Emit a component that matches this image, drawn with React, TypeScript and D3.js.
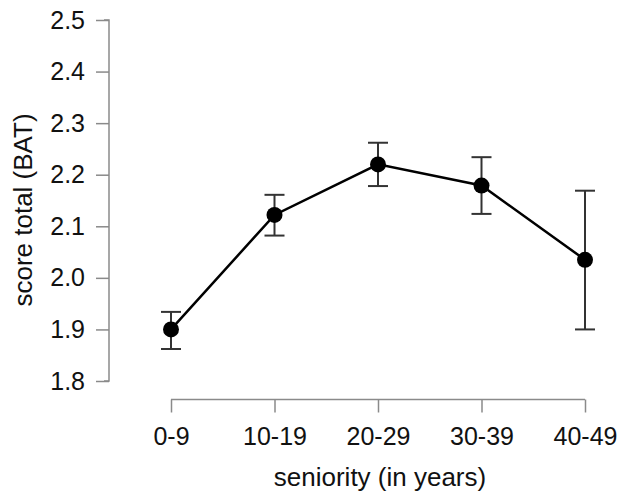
import React, { useRef, useEffect } from 'react';
import * as d3 from 'd3';

// seniority groups and BAT score means with error bar bounds
const groups = ['0-9', '10-19', '20-29', '30-39', '40-49'];
const means = [1.9, 2.122, 2.22, 2.179, 2.035];
const lower = [1.862, 2.082, 2.178, 2.124, 1.9];
const upper = [1.934, 2.161, 2.262, 2.234, 2.169];
const yTicks = [1.8, 1.9, 2.0, 2.1, 2.2, 2.3, 2.4, 2.5];

const W = 620;
const H = 494;
const FONT = '"Liberation Sans", Arial, sans-serif';

export default function App() {
  const ref = useRef<SVGSVGElement>(null);

  useEffect(() => {
    const svg = d3.select(ref.current);
    svg.selectAll('*').remove();

    const x = d3.scalePoint<string>().domain(groups).range([171, 585]);
    const y = d3.scaleLinear().domain([1.8, 2.5]).range([381, 20]);

    const axisColor = '#8a8a8a';

    // y axis
    const ya = svg.append('g').attr('transform', 'translate(109,0)')
      .call(d3.axisLeft(y).tickValues(yTicks).tickFormat(d3.format('.1f')).tickSize(13).tickPadding(11));
    ya.select('.domain').attr('stroke', axisColor).attr('stroke-width', 1.5)
      .attr('d', `M-5,${y(2.5)}H0V${y(1.8)}H-5`);
    ya.selectAll('.tick line').attr('stroke', axisColor).attr('stroke-width', 1.5);
    ya.selectAll('.tick text').attr('fill', '#111').style('font-size', '25px').style('font-family', FONT);

    // x axis
    const xa = svg.append('g').attr('transform', 'translate(0,399.5)')
      .call(d3.axisBottom(x).tickSize(13).tickPadding(15));
    xa.select('.domain').attr('stroke', axisColor).attr('stroke-width', 1.5)
      .attr('d', `M${x('0-9')},0H${x('40-49')}`);
    xa.selectAll('.tick line').attr('stroke', axisColor).attr('stroke-width', 1.5);
    xa.selectAll('.tick text').attr('fill', '#111').style('font-size', '25px').style('font-family', FONT);

    // axis titles
    svg.append('text')
      .attr('transform', 'translate(32,210) rotate(-90)')
      .attr('text-anchor', 'middle')
      .style('font-size', '26px').style('font-family', FONT).attr('fill', '#111')
      .text('score total (BAT)');
    svg.append('text')
      .attr('x', 380).attr('y', 486)
      .attr('text-anchor', 'middle')
      .style('font-size', '26px').style('font-family', FONT).attr('fill', '#111')
      .text('seniority (in years)');

    // error bars
    const eb = svg.append('g').attr('stroke', '#333').attr('stroke-width', 2);
    groups.forEach((g, i) => {
      const cx = x(g)!;
      eb.append('line').attr('x1', cx).attr('x2', cx).attr('y1', y(lower[i])).attr('y2', y(upper[i]));
      eb.append('line').attr('x1', cx - 10).attr('x2', cx + 10).attr('y1', y(lower[i])).attr('y2', y(lower[i]));
      eb.append('line').attr('x1', cx - 10).attr('x2', cx + 10).attr('y1', y(upper[i])).attr('y2', y(upper[i]));
    });

    // mean line
    const line = d3.line<number>().x((d, i) => x(groups[i])!).y(d => y(d));
    svg.append('path').datum(means).attr('d', line).attr('fill', 'none')
      .attr('stroke', '#000').attr('stroke-width', 2.5);

    svg.append('g').selectAll('circle').data(means).join('circle')
      .attr('cx', (d, i) => x(groups[i])!).attr('cy', d => y(d)).attr('r', 8)
      .attr('fill', '#000');
  }, []);

  return (
    <div style={{ position: 'absolute', left: 0, top: 0 }}>
      <svg ref={ref} width={W} height={H} style={{ display: 'block', background: '#fff' }} />
    </div>
  );
}
